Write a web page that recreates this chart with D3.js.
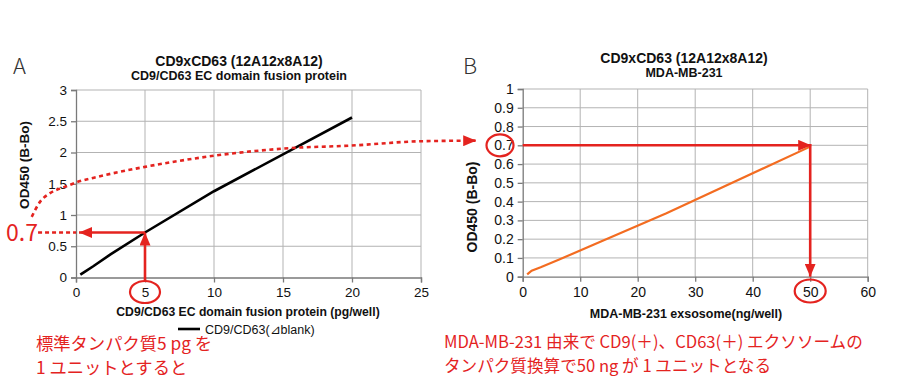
<!DOCTYPE html>
<html><head><meta charset="utf-8">
<script src="https://cdn.jsdelivr.net/npm/d3@7/dist/d3.min.js"></script>
<style>
body{margin:0;background:#fff;}
svg{display:block;}
text{font-family:"Liberation Sans",Arial,sans-serif;}
.jp{font-family:"Noto Sans CJK JP",sans-serif;}
</style></head>
<body>
<svg id="c" width="900" height="388"></svg>
<script>
// ---------- data ----------
const aTitle = ["CD9xCD63 (12A12x8A12)", "CD9/CD63 EC domain fusion protein"];
const bTitle = ["CD9xCD63 (12A12x8A12)", "MDA-MB-231"];
const aXTicks = [0, 5, 10, 15, 20, 25];
const aYTicks = [0, 0.5, 1, 1.5, 2, 2.5, 3];
const bXTicks = [0, 10, 20, 30, 40, 50, 60];
const bYTicks = [0, 0.1, 0.2, 0.3, 0.4, 0.5, 0.6, 0.7, 0.8, 0.9, 1];
// standard protein (pg/well) vs OD450
const aX = [0.3125, 0.625, 1.25, 2.5, 5, 10, 20];
const aY = [0.045, 0.09, 0.18, 0.37, 0.72, 1.38, 2.56];
// MDA-MB-231 exosome (ng/well) vs OD450
const bX = [0.78, 1.56, 3.125, 6.25, 12.5, 25, 50];
const bY = [0.012, 0.032, 0.05, 0.09, 0.173, 0.338, 0.693];
// connector curve (in chart A units)
const curveX = [-3.21, -2.61, -1.88, -0.8, 0, 1.74, 5, 15.5, 19.86, 25, 29.0];
const curveY = [0.97, 1.21, 1.35, 1.45, 1.52, 1.62, 1.77, 2.07, 2.11, 2.18, 2.19];
const aLabels = {x: "CD9/CD63 EC domain fusion protein (pg/well)", y: "OD450 (B-Bo)", legend: "CD9/CD63(⊿blank)"};
const bLabels = {x: "MDA-MB-231 exsosome(ng/well)", y: "OD450 (B-Bo)"};
const noteA = ["標準タンパク質5 pg を", "1 ユニットとすると"];
const noteB = ["MDA-MB-231 由来で CD9(＋)、CD63(＋) エクソソームの", "タンパク質換算で50 ng が 1 ユニットとなる"];

// ---------- drawing ----------
const RED = "#e4231f", GRID = "#b3b3b3", AXIS = "#7a7a7a";
const svg = d3.select("#c");

const xA = d3.scaleLinear().domain([0, 25]).range([76, 421]);
const yA = d3.scaleLinear().domain([0, 3]).range([277.5, 90]);
const xB = d3.scaleLinear().domain([0, 60]).range([522.7, 867.7]);
const yB = d3.scaleLinear().domain([0, 1]).range([276.7, 89]);

const defs = svg.append("defs");
defs.append("marker").attr("id", "ah").attr("viewBox", "0 0 13 11")
  .attr("refX", 13).attr("refY", 5.5).attr("markerWidth", 13).attr("markerHeight", 11)
  .attr("markerUnits", "userSpaceOnUse").attr("orient", "auto")
  .append("path").attr("d", "M0,0 L13,5.5 L0,11 Z").attr("fill", RED);

function panel(x, y, xt, yt, yfmt, tickSize) {
  const g = svg.append("g");
  g.selectAll(".gx").data(xt.slice(1)).join("line")
    .attr("x1", d => x(d)).attr("x2", d => x(d))
    .attr("y1", y.range()[0]).attr("y2", y.range()[1])
    .attr("stroke", GRID).attr("stroke-width", 1);
  g.selectAll(".gy").data(yt.slice(1)).join("line")
    .attr("y1", d => y(d)).attr("y2", d => y(d))
    .attr("x1", x.range()[0]).attr("x2", x.range()[1])
    .attr("stroke", GRID).attr("stroke-width", 1);
  const ax = g.append("g").attr("transform", `translate(0,${y.range()[0]})`)
    .call(d3.axisBottom(x).tickValues(xt).tickSize(5).tickPadding(5).tickFormat(d3.format("d")));
  const ay = g.append("g").attr("transform", `translate(${x.range()[0]},0)`)
    .call(d3.axisLeft(y).tickValues(yt).tickSize(5).tickPadding(4).tickFormat(yfmt));
  [ax, ay].forEach(a => {
    a.select(".domain").attr("stroke", AXIS).attr("stroke-width", 1.3);
    a.selectAll(".tick line").attr("stroke", AXIS).attr("stroke-width", 1.3);
    a.selectAll(".tick text").attr("fill", "#111").style("font-size", tickSize + "px")
      .style("font-family", "'Liberation Sans',Arial,sans-serif");
  });
  return g;
}

panel(xA, yA, aXTicks, aYTicks, d => d === 0 ? "0" : d3.format("")(d), 13.5);
panel(xB, yB, bXTicks, bYTicks, d => d === 0 ? "0" : d3.format(".1f")(d).replace(/\.0$/, ""), 14);

// series lines
svg.append("path").datum(aX.map((d, i) => [d, aY[i]]))
  .attr("d", d3.line().x(d => xA(d[0])).y(d => yA(d[1])))
  .attr("fill", "none").attr("stroke", "#000").attr("stroke-width", 2.6);
svg.append("path").datum(bX.map((d, i) => [d, bY[i]]))
  .attr("d", d3.line().x(d => xB(d[0])).y(d => yB(d[1])))
  .attr("fill", "none").attr("stroke", "#f36c21").attr("stroke-width", 2.2);

function txt(x, y, s, size, weight, anchor, cls, fill) {
  return svg.append("text").attr("x", x).attr("y", y).text(s)
    .attr("font-size", size).attr("font-weight", weight || "normal")
    .attr("text-anchor", anchor || "middle").attr("fill", fill || "#111")
    .attr("class", cls || null);
}
txt(239, 66, aTitle[0], 14, "bold");
txt(239, 80, aTitle[1], 12.5, "bold");
txt(684, 63, bTitle[0], 14, "bold");
txt(684, 77, bTitle[1], 12.5, "bold");
txt(248, 316, aLabels.x, 12.2, "bold");
txt(686, 318, bLabels.x, 12.5, "bold");
svg.append("text").attr("transform", "translate(29,165) rotate(-90)")
  .attr("text-anchor", "middle").attr("font-size", 13.5).attr("font-weight", "bold").attr("fill", "#111").text(aLabels.y);
svg.append("text").attr("transform", "translate(477,207) rotate(-90)")
  .attr("text-anchor", "middle").attr("font-size", 14).attr("font-weight", "bold").attr("fill", "#111").text(bLabels.y);
txt(13, 73.5, "A", 22, 300, "start", "jp", "#333");
txt(463, 73.5, "B", 22, 300, "start", "jp", "#333");
// legend
svg.append("line").attr("x1", 178).attr("x2", 200).attr("y1", 329).attr("y2", 329)
  .attr("stroke", "#000").attr("stroke-width", 2.6);
txt(205, 333.5, aLabels.legend, 12.5, "normal", "start");

// ---------- annotations ----------
svg.append("path").datum(curveX.map((d, i) => [d, curveY[i]]))
  .attr("d", d3.line().x(d => xA(d[0])).y(d => yA(d[1])).curve(d3.curveMonotoneX))
  .attr("fill", "none").attr("stroke", RED).attr("stroke-width", 2.6)
  .attr("stroke-dasharray", "4,3.5").attr("marker-end", "url(#ah)");
svg.append("line").attr("x1", xA(-2.75)).attr("x2", xA(0)).attr("y1", yA(0.72)).attr("y2", yA(0.72))
  .attr("stroke", RED).attr("stroke-width", 2.6).attr("stroke-dasharray", "4,3");
txt(6, 240.5, "0.7", 23, "normal", "start", "jp", RED);
svg.append("line").attr("x1", xA(5)).attr("x2", xA(0) + 3).attr("y1", yA(0.72)).attr("y2", yA(0.72))
  .attr("stroke", RED).attr("stroke-width", 2.6).attr("marker-end", "url(#ah)");
svg.append("line").attr("x1", xA(5)).attr("x2", xA(5)).attr("y1", 281.5).attr("y2", yA(0.72))
  .attr("stroke", RED).attr("stroke-width", 2.6).attr("marker-end", "url(#ah)");
svg.append("ellipse").attr("cx", xA(5)).attr("cy", 292).attr("rx", 15).attr("ry", 11)
  .attr("fill", "none").attr("stroke", RED).attr("stroke-width", 2.2);
svg.append("line").attr("x1", xB(0)).attr("x2", xB(50) + 1).attr("y1", yB(0.7)).attr("y2", yB(0.7))
  .attr("stroke", RED).attr("stroke-width", 2.6).attr("marker-end", "url(#ah)");
svg.append("line").attr("x1", xB(50)).attr("x2", xB(50)).attr("y1", yB(0.7) - 1.3).attr("y2", yB(0))
  .attr("stroke", RED).attr("stroke-width", 2.6).attr("marker-end", "url(#ah)");
svg.append("ellipse").attr("cx", 500).attr("cy", yB(0.7)).attr("rx", 13.5).attr("ry", 11)
  .attr("fill", "none").attr("stroke", RED).attr("stroke-width", 2.2);
svg.append("ellipse").attr("cx", xB(50)).attr("cy", 291).attr("rx", 15.5).attr("ry", 11.5)
  .attr("fill", "none").attr("stroke", RED).attr("stroke-width", 2.2);

// notes
function note(x, y0, lines, dy, size) {
  lines.forEach((s, i) => svg.append("text").attr("class", "jp").attr("font-size", size)
    .attr("fill", RED).attr("x", x).attr("y", y0 + i * dy).text(s));
}
note(36, 350, noteA, 24, 17.3);
note(444, 347.5, noteB, 24, 16.6);
</script>
</body></html>
